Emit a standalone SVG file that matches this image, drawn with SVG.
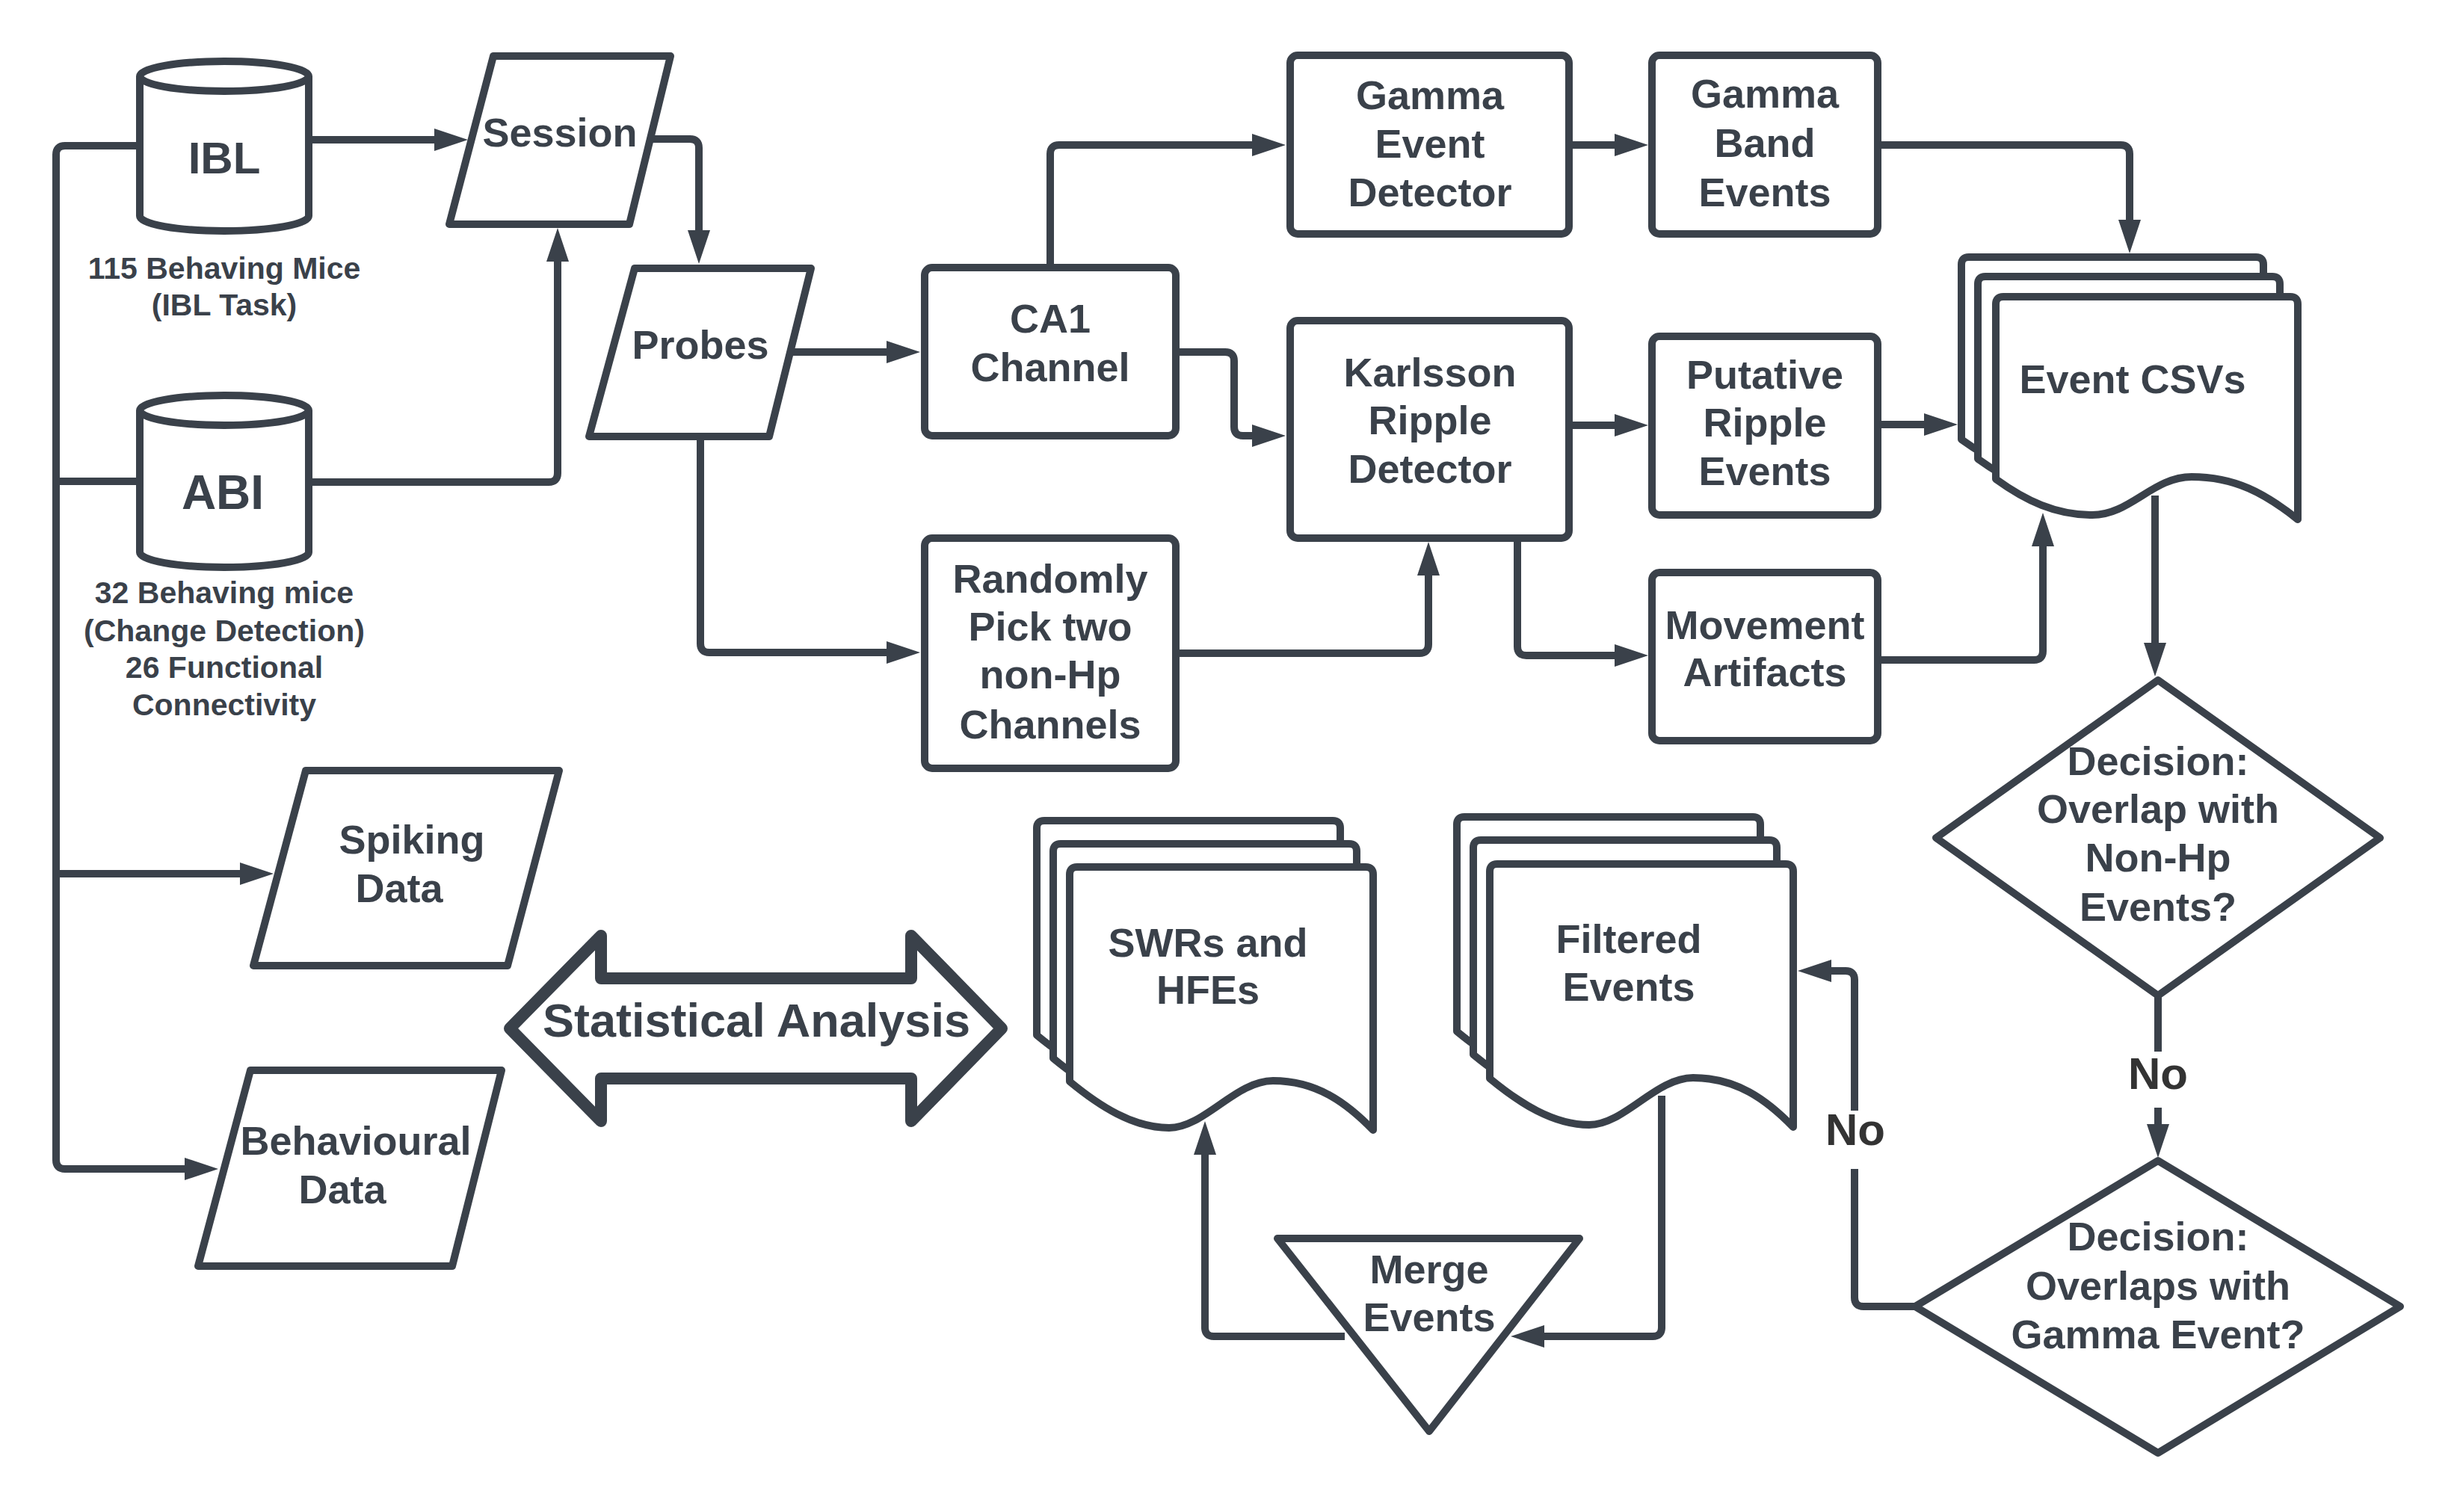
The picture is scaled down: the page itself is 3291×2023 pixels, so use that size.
<svg xmlns="http://www.w3.org/2000/svg" width="3291" height="2023" viewBox="0 0 3291 2023">
<style>
.n{fill:#fff;stroke:#3a414a;stroke-width:10;stroke-linejoin:round}
.c{fill:none;stroke:#3a414a;stroke-width:10;stroke-linejoin:round}
.t{font-family:"Liberation Sans",Arial,sans-serif;font-weight:bold;font-size:54px;fill:#3a414a;text-anchor:middle}
.s{font-size:41px}
.big{font-size:60px}
.no{font-size:60px;fill:#333}
</style>
<defs>
<marker id="ah" markerUnits="userSpaceOnUse" markerWidth="46" markerHeight="30" viewBox="0 0 46 30" refX="1" refY="15" orient="auto"><path d="M0,0 L45,15 L0,30 Z" fill="#3a414a"/></marker>
<path id="docA" d="M0,244 C40,273 80,292 129,292 C180,292 210,241 262,241 C320,241 360,263 404,298 V10 Q404,0 394,0 H10 Q0,0 0,10 Z"/>
<path id="docB" d="M0,287 C40,320 85,349 133,349 C180,349 222,286 272,286 C330,286 370,315 406,352 V10 Q406,0 396,0 H10 Q0,0 0,10 Z"/>
</defs>
<rect width="3291" height="2023" fill="#fff"/>

<g id="connectors">
<path class="c" d="M187,195 H87 Q75,195 75,207 V1552 Q75,1564 87,1564 H248" marker-end="url(#ah)"/>
<path class="c" d="M75,644 H187"/>
<path class="c" d="M75,1169 H322" marker-end="url(#ah)"/>
<path class="c" d="M413,187 H582" marker-end="url(#ah)"/>
<path class="c" d="M413,645 H734 Q746,645 746,633 V349" marker-end="url(#ah)"/>
<path class="c" d="M870,186 H923 Q935,186 935,198 V309" marker-end="url(#ah)"/>
<path class="c" d="M1057,471 H1187" marker-end="url(#ah)"/>
<path class="c" d="M937,584 V861 Q937,873 949,873 H1187" marker-end="url(#ah)"/>
<path class="c" d="M1405,358 V206 Q1405,194 1417,194 H1676" marker-end="url(#ah)"/>
<path class="c" d="M1573,471 H1639 Q1651,471 1651,483 V571 Q1651,583 1663,583 H1676" marker-end="url(#ah)"/>
<path class="c" d="M2099,194 H2161" marker-end="url(#ah)"/>
<path class="c" d="M2099,569 H2161" marker-end="url(#ah)"/>
<path class="c" d="M1573,874 H1899 Q1911,874 1911,862 V769" marker-end="url(#ah)"/>
<path class="c" d="M2030,720 V865 Q2030,877 2042,877 H2161" marker-end="url(#ah)"/>
<path class="c" d="M2512,194 H2837 Q2849,194 2849,206 V295" marker-end="url(#ah)"/>
<path class="c" d="M2512,568 H2575" marker-end="url(#ah)"/>
<path class="c" d="M2512,883 H2721 Q2733,883 2733,871 V730" marker-end="url(#ah)"/>
<path class="c" d="M2883,663 V861" marker-end="url(#ah)"/>
<path class="c" d="M2887,1332 V1407"/>
<path class="c" d="M2887,1482 V1505" marker-end="url(#ah)"/>
<text class="t no" x="2887" y="1457">No</text>
<path class="c" d="M2562,1748 H2493 Q2481,1748 2481,1736 V1564"/>
<path class="c" d="M2481,1486 V1311 Q2481,1299 2469,1299 H2449" marker-end="url(#ah)"/>
<text class="t no" x="2482" y="1532">No</text>
<path class="c" d="M2223,1466 V1776 Q2223,1788 2211,1788 H2065" marker-end="url(#ah)"/>
<path class="c" d="M1799,1788 H1624 Q1612,1788 1612,1776 V1544" marker-end="url(#ah)"/>
</g>

<g id="ibl">
<path class="n" d="M187,102 A113,20 0 0 1 413,102 V289 A113,20 0 0 1 187,289 Z"/>
<path class="c" d="M187,102 A113,20 0 0 0 413,102"/>
<text class="t big" x="300" y="232">IBL</text>
<text class="t s" x="300" y="373">115 Behaving Mice</text>
<text class="t s" x="300" y="422">(IBL Task)</text>
</g>
<g id="abi">
<path class="n" d="M187,549 A113,20 0 0 1 413,549 V739 A113,20 0 0 1 187,739 Z"/>
<path class="c" d="M187,549 A113,20 0 0 0 413,549"/>
<text class="t big" style="font-size:64px" x="298" y="681">ABI</text>
<text class="t s" x="300" y="807">32 Behaving mice</text>
<text class="t s" x="300" y="858">(Change Detection)</text>
<text class="t s" x="300" y="907">26 Functional</text>
<text class="t s" x="300" y="957">Connectivity</text>
</g>
<g id="session">
<path class="n" d="M660,75 H897 L842,300 H601 Z"/>
<text class="t" x="749" y="196">Session</text>
</g>
<g id="probes">
<path class="n" d="M849,359 H1085 L1029,584 H788 Z"/>
<text class="t" x="937" y="480">Probes</text>
</g>
<g id="spiking">
<path class="n" d="M409,1031 H748 L679,1292 H339 Z"/>
<text class="t" x="551" y="1142">Spiking</text>
<text class="t" x="534" y="1207">Data</text>
</g>
<g id="behavioural">
<path class="n" d="M335,1432 H671 L605,1694 H265 Z"/>
<text class="t" x="476" y="1545">Behavioural</text>
<text class="t" x="458" y="1610">Data</text>
</g>
<g id="ca1">
<rect class="n" x="1237" y="358" width="336" height="225" rx="10"/>
<text class="t" x="1405" y="445">CA1</text>
<text class="t" x="1405" y="510">Channel</text>
</g>
<g id="randomly">
<rect class="n" x="1237" y="720" width="336" height="308" rx="10"/>
<text class="t" x="1405" y="793">Randomly</text>
<text class="t" x="1405" y="857">Pick two</text>
<text class="t" x="1405" y="921">non-Hp</text>
<text class="t" x="1405" y="988">Channels</text>
</g>
<g id="gamma-detector">
<rect class="n" x="1726" y="74" width="373" height="239" rx="10"/>
<text class="t" x="1913" y="146">Gamma</text>
<text class="t" x="1913" y="211">Event</text>
<text class="t" x="1913" y="276">Detector</text>
</g>
<g id="karlsson">
<rect class="n" x="1726" y="429" width="373" height="291" rx="10"/>
<text class="t" x="1913" y="517">Karlsson</text>
<text class="t" x="1913" y="581">Ripple</text>
<text class="t" x="1913" y="646">Detector</text>
</g>
<g id="gamma-band">
<rect class="n" x="2210" y="74" width="302" height="239" rx="10"/>
<text class="t" x="2361" y="144">Gamma</text>
<text class="t" x="2361" y="210">Band</text>
<text class="t" x="2361" y="276">Events</text>
</g>
<g id="putative">
<rect class="n" x="2210" y="450" width="302" height="239" rx="10"/>
<text class="t" x="2361" y="520">Putative</text>
<text class="t" x="2361" y="584">Ripple</text>
<text class="t" x="2361" y="649">Events</text>
</g>
<g id="movement">
<rect class="n" x="2210" y="766" width="302" height="225" rx="10"/>
<text class="t" x="2361" y="855">Movement</text>
<text class="t" x="2361" y="918">Artifacts</text>
</g>
<g id="event-csvs">
<use href="#docA" class="n" transform="translate(2624,344)"/>
<use href="#docA" class="n" transform="translate(2646,370)"/>
<use href="#docA" class="n" transform="translate(2670,397)"/>
<text class="t" x="2853" y="526">Event CSVs</text>
</g>
<g id="decision1">
<path class="n" d="M2887,910 L3184,1121 L2887,1332 L2590,1121 Z"/>
<text class="t" x="2887" y="1037">Decision:</text>
<text class="t" x="2887" y="1101">Overlap with</text>
<text class="t" x="2887" y="1166">Non-Hp</text>
<text class="t" x="2887" y="1232">Events?</text>
</g>
<g id="decision2">
<path class="n" d="M2887,1553 L3211,1748 L2887,1944 L2562,1748 Z"/>
<text class="t" x="2887" y="1673">Decision:</text>
<text class="t" x="2887" y="1739">Overlaps with</text>
<text class="t" x="2887" y="1804">Gamma Event?</text>
</g>
<g id="filtered">
<use href="#docB" class="n" transform="translate(1949,1093)"/>
<use href="#docB" class="n" transform="translate(1971,1124)"/>
<use href="#docB" class="n" transform="translate(1993,1156)"/>
<text class="t" x="2179" y="1275">Filtered</text>
<text class="t" x="2179" y="1339">Events</text>
</g>
<g id="swrs">
<use href="#docB" class="n" transform="translate(1387,1098)"/>
<use href="#docB" class="n" transform="translate(1409,1129)"/>
<use href="#docB" class="n" transform="translate(1431,1160)"/>
<text class="t" x="1616" y="1280">SWRs and</text>
<text class="t" x="1616" y="1343">HFEs</text>
</g>
<g id="merge">
<path class="n" d="M1709,1657 H2113 L1912,1915 Z"/>
<text class="t" x="1912" y="1717">Merge</text>
<text class="t" x="1912" y="1781">Events</text>
</g>
<g id="statistical-analysis">
<path class="n" style="stroke-width:16" d="M682,1376 L804,1252 V1309 H1219 V1252 L1340,1376 L1219,1500 V1443 H804 V1500 Z"/>
<text class="t" style="font-size:63px" x="1012" y="1387">Statistical Analysis</text>
</g>
</svg>
